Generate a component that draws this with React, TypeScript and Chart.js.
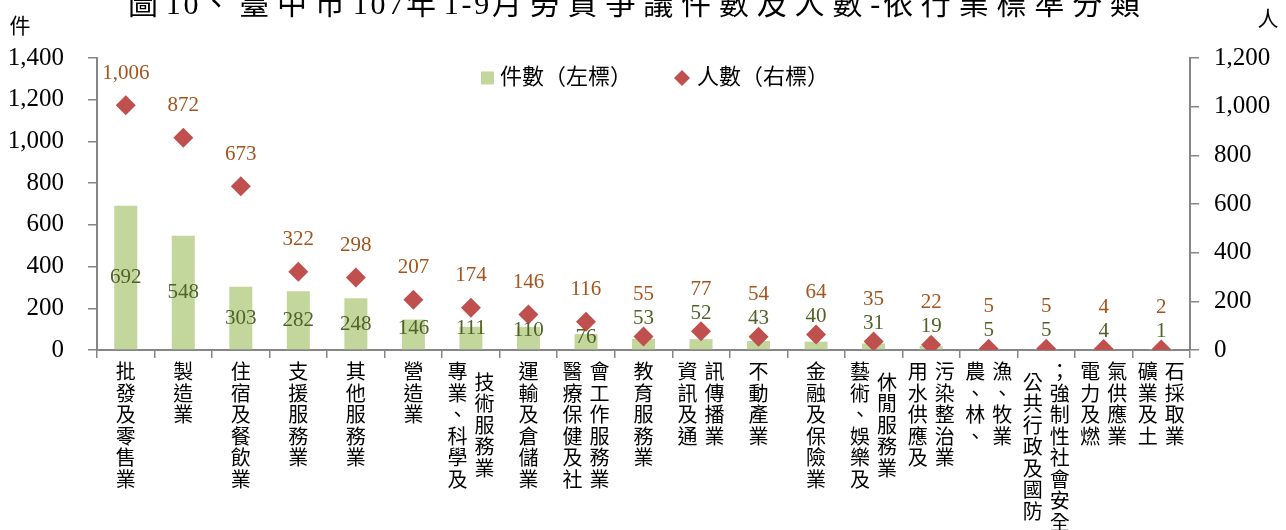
import React, { useEffect, useRef } from "react";
import { Chart, registerables } from "chart.js";

Chart.register(...registerables);

const TITLE = "圖10、臺中市107年1-9月勞資爭議件數及人數-依行業標準分類";
const LEFT_UNIT = "件";
const RIGHT_UNIT = "人";
const LEGEND_CASES = "件數（左標）";
const LEGEND_PERSONS = "人數（右標）";

// Category labels, split into the vertical text columns shown under each tick
const categories: string[][] = [
  ["批發及零售業"],
  ["製造業"],
  ["住宿及餐飲業"],
  ["支援服務業"],
  ["其他服務業"],
  ["營造業"],
  ["專業、科學及", "技術服務業"],
  ["運輸及倉儲業"],
  ["醫療保健及社", "會工作服務業"],
  ["教育服務業"],
  ["資訊及通", "訊傳播業"],
  ["不動產業"],
  ["金融及保險業"],
  ["藝術、娛樂及", "休閒服務業"],
  ["用水供應及", "污染整治業"],
  ["農、林、", "漁、牧業"],
  ["公共行政及國防", "；強制性社會安全"],
  ["電力及燃", "氣供應業"],
  ["礦業及土", "石採取業"],
];

const caseCounts = [692, 548, 303, 282, 248, 146, 111, 110, 76, 53, 52, 43, 40, 31, 19, 5, 5, 4, 1];
const personCounts = [1006, 872, 673, 322, 298, 207, 174, 146, 116, 55, 77, 54, 64, 35, 22, 5, 5, 4, 2];

const LEFT_MAX = 1400;
const RIGHT_MAX = 1200;
const TICK_STEP = 200;

const SERIF = "'Liberation Serif', 'Noto Sans CJK TC', serif";
const BAR_COLOR = "#C3D69B";
const MARKER_COLOR = "#C0504D";
const CASE_LABEL_COLOR = "#4F6228";
const PERSON_LABEL_COLOR = "#A4531C";
const AXIS_COLOR = "#868686";

const fmt = (v: number) => v.toLocaleString("en-US");

const decorPlugin = {
  id: "decor",
  afterDatasetsDraw(chart: any) {
    const ctx: CanvasRenderingContext2D = chart.ctx;
    const barMeta = chart.getDatasetMeta(0);
    const ptMeta = chart.getDatasetMeta(1);
    const base = chart.scales.y.getPixelForValue(0);
    ctx.save();
    ctx.font = `21px ${SERIF}`;
    ctx.textAlign = "center";
    ctx.textBaseline = "middle";
    barMeta.data.forEach((bar: any, i: number) => {
      const pt = ptMeta.data[i];
      const center = (bar.y + base) / 2;
      let ly: number;
      if (pt.y > base - 26) {
        ly = pt.y - 18;
      } else {
        ly = Math.min(center, base - 22);
        if (Math.abs(pt.y - ly) < 16) ly = Math.min(pt.y + 16, base - 10);
      }
      ctx.fillStyle = CASE_LABEL_COLOR;
      ctx.fillText(fmt(caseCounts[i]), bar.x, ly);
      const py = Math.min(pt.y - 32, ly - 24);
      ctx.fillStyle = PERSON_LABEL_COLOR;
      ctx.fillText(fmt(personCounts[i]), pt.x, py);
    });
    ctx.restore();
  },
  afterDraw(chart: any) {
    const ctx: CanvasRenderingContext2D = chart.ctx;
    const xScale = chart.scales.x;
    const base = chart.scales.y.getPixelForValue(0);
    ctx.save();

    // category labels (vertical text)
    ctx.font = `20px ${SERIF}`;
    ctx.fillStyle = "#000";
    ctx.textAlign = "center";
    ctx.textBaseline = "middle";
    const step = 21.5;
    const colGap = 27;
    const top = base + 13;
    categories.forEach((cols, i) => {
      const cx = xScale.getPixelForValue(i);
      const maxLen = Math.max(...cols.map((c) => Array.from(c).length));
      cols.forEach((col, j) => {
        const chars = Array.from(col);
        const x = cx + (j - (cols.length - 1) / 2) * colGap;
        const off = ((maxLen - chars.length) / 2) * step;
        chars.forEach((ch, k) => {
          ctx.fillText(ch, x, top + off + k * step + step / 2);
        });
      });
    });

    // title, spread between its left and right edges
    ctx.font = `30px ${SERIF}`;
    ctx.textAlign = "left";
    ctx.textBaseline = "alphabetic";
    const tChars = Array.from(TITLE);
    const widths = tChars.map((c) => ctx.measureText(c).width);
    const weights = tChars.map((c) => (c.charCodeAt(0) < 128 ? 0.35 : 1));
    const tLeft = 128;
    const tRight = 1140;
    const totalW = widths.reduce((a, b) => a + b, 0);
    const wSum = weights.slice(0, -1).reduce((a, b) => a + b, 0);
    const unit = (tRight - tLeft - totalW) / wSum;
    let tx = tLeft;
    tChars.forEach((c, k) => {
      ctx.fillText(c, tx, 14);
      tx += widths[k] + weights[k] * unit;
    });

    // units
    ctx.font = `21px ${SERIF}`;
    ctx.textAlign = "center";
    ctx.textBaseline = "middle";
    ctx.fillText(LEFT_UNIT, 20, 27);
    ctx.fillText(RIGHT_UNIT, 1268, 20);

    // legend
    const ly = 78;
    ctx.fillStyle = BAR_COLOR;
    ctx.fillRect(481, ly - 6.5, 13, 13);
    ctx.fillStyle = "#000";
    ctx.font = `22px ${SERIF}`;
    ctx.textAlign = "left";
    ctx.fillText(LEGEND_CASES, 500, ly);
    ctx.fillStyle = MARKER_COLOR;
    ctx.beginPath();
    ctx.moveTo(682, ly - 8);
    ctx.lineTo(690, ly);
    ctx.lineTo(682, ly + 8);
    ctx.lineTo(674, ly);
    ctx.closePath();
    ctx.fill();
    ctx.fillStyle = "#000";
    ctx.fillText(LEGEND_PERSONS, 697, ly);

    ctx.restore();
  },
};

export default function App() {
  const ref = useRef<HTMLCanvasElement | null>(null);
  useEffect(() => {
    if (!ref.current) return;
    const chart = new Chart(ref.current, {
      type: "bar",
      data: {
        labels: categories.map((c) => c.join("")),
        datasets: [
          {
            type: "bar",
            label: "件數(左標)",
            data: caseCounts,
            backgroundColor: BAR_COLOR,
            borderWidth: 0,
            yAxisID: "y",
            barPercentage: 0.4,
            categoryPercentage: 1,
            order: 2,
          } as any,
          {
            type: "line",
            label: "人數(右標)",
            data: personCounts,
            showLine: false,
            pointStyle: "rectRot",
            pointRadius: 10,
            pointHoverRadius: 10,
            pointBackgroundColor: MARKER_COLOR,
            pointBorderColor: MARKER_COLOR,
            pointBorderWidth: 0,
            backgroundColor: MARKER_COLOR,
            borderColor: MARKER_COLOR,
            yAxisID: "y1",
            order: 1,
          } as any,
        ],
      },
      options: {
        responsive: false,
        animation: false,
        devicePixelRatio: 1,
        layout: { padding: { top: 58, left: 0, right: 0, bottom: 0 } },
        plugins: {
          legend: { display: false },
          title: { display: false },
          tooltip: { enabled: false },
        },
        scales: {
          x: {
            offset: true,
            grid: {
              offset: true,
              drawOnChartArea: false,
              drawTicks: true,
              tickLength: 8,
              color: AXIS_COLOR,
              lineWidth: 1.5,
            },
            border: { color: AXIS_COLOR, width: 2 },
            ticks: { display: false },
            afterFit: (s: any) => {
              s.height = 180;
            },
          },
          y: {
            position: "left",
            min: 0,
            max: LEFT_MAX,
            ticks: {
              stepSize: TICK_STEP,
              padding: 24,
              color: "#000",
              font: { family: SERIF, size: 25 },
              callback: (v: any) => fmt(Number(v)),
            },
            grid: {
              drawOnChartArea: false,
              drawTicks: true,
              tickLength: 9,
              color: AXIS_COLOR,
              lineWidth: 1.5,
            },
            border: { color: AXIS_COLOR, width: 2 },
            afterFit: (s: any) => {
              s.width = 97;
            },
          },
          y1: {
            position: "right",
            min: 0,
            max: RIGHT_MAX,
            ticks: {
              stepSize: TICK_STEP,
              padding: 15,
              color: "#000",
              font: { family: SERIF, size: 25 },
              callback: (v: any) => fmt(Number(v)),
            },
            grid: {
              drawOnChartArea: false,
              drawTicks: true,
              tickLength: 9,
              color: AXIS_COLOR,
              lineWidth: 1.5,
            },
            border: { color: AXIS_COLOR, width: 2 },
            afterFit: (s: any) => {
              s.width = 96;
            },
          },
        },
      },
      plugins: [decorPlugin],
    });
    return () => chart.destroy();
  }, []);

  return (
    <div
      style={{
        position: "fixed",
        left: 0,
        top: 0,
        width: 1286,
        height: 530,
        background: "#fff",
      }}
    >
      <canvas ref={ref} width={1286} height={530} style={{ display: "block" }} />
    </div>
  );
}
